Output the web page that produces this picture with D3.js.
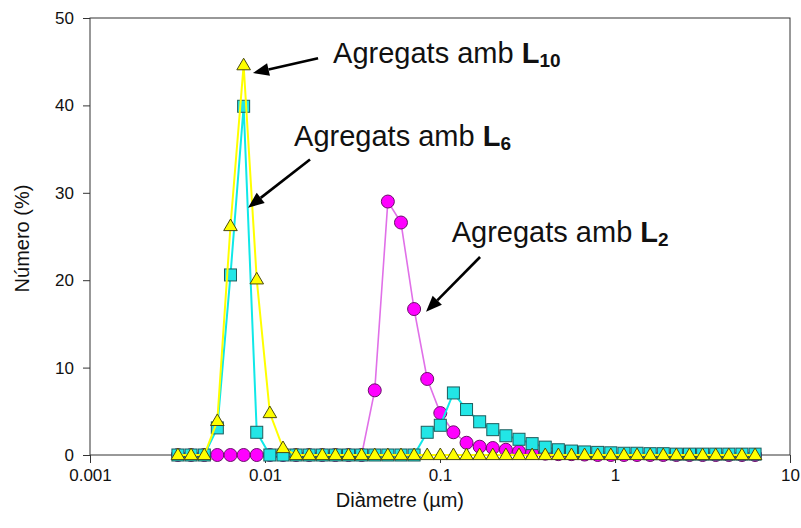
<!DOCTYPE html>
<html>
<head>
<meta charset="utf-8">
<script src="https://cdn.jsdelivr.net/npm/d3@7"></script>
<style>
  body { margin: 0; background: #fff; }
  text { font-family: Arial, "Liberation Sans", sans-serif; fill: #111; }
</style>
</head>
<body>
<div id="chart"></div>
<script>
// bin centres of the size distribution (µm)
var diameter = [0.00318, 0.00378, 0.00450, 0.00534, 0.00635, 0.00755, 0.00897, 0.01066, 0.01267,
  0.01505, 0.01788, 0.02125, 0.02525, 0.03001, 0.03566, 0.04237, 0.05035, 0.05984, 0.07111,
  0.08451, 0.1004, 0.1193, 0.1418, 0.1685, 0.2003, 0.2380, 0.2828, 0.3361, 0.3994, 0.4746,
  0.5640, 0.6702, 0.7965, 0.9463, 1.125, 1.336, 1.588, 1.887, 2.242, 2.665, 3.167, 3.763,
  4.472, 5.314, 6.316];

// number (%) for aggregates with L2, L6 and L10
var numL2 = [0, 0, 0, 0, 0, 0, 0, 0, 0, 0, 0, 0, 0, 0, 0,
  7.4, 29.0, 26.6, 16.7, 8.7, 4.8, 2.6, 1.4, 0.95, 0.8, 0.6, 0.4, 0.25, 0.15, 0.1,
  0.1, 0.05, 0, 0, 0, 0, 0, 0, 0, 0, 0, 0, 0, 0, 0];
var numL6 = [0, 0, 0, 3.1, 20.6, 39.9, 2.6, 0, 0, 0, 0, 0, 0, 0, 0,
  0, 0, 0, 0, 2.6, 3.4, 7.1, 5.2, 3.8, 2.9, 2.2, 1.8, 1.3, 0.9, 0.6,
  0.45, 0.35, 0.3, 0.25, 0.2, 0.2, 0.15, 0.15, 0.1, 0.1, 0.1, 0.1, 0.1, 0.1, 0.1];
var numL10 = [0, 0, 0, 3.9, 26.2, 44.6, 20.1, 4.8, 0.8, 0, 0, 0, 0, 0, 0,
  0, 0, 0, 0, 0, 0, 0, 0, 0, 0, 0, 0, 0, 0, 0,
  0, 0, 0, 0, 0, 0, 0, 0, 0, 0, 0, 0, 0, 0, 0];

var xTicks = [0.001, 0.01, 0.1, 1, 10];
var xTickLabels = ["0.001", "0.01", "0.1", "1", "10"];
var yTicks = [0, 10, 20, 30, 40, 50];

var width = 801, height = 528;
var margin = { top: 18, right: 11, bottom: 73, left: 90 };

var svg = d3.select("#chart").append("svg")
  .attr("width", width)
  .attr("height", height);

var x = d3.scaleLog().domain([0.001, 10]).range([margin.left, width - margin.right]);
var y = d3.scaleLinear().domain([0, 50]).range([height - margin.bottom, margin.top]);

// frame
svg.append("rect")
  .attr("x", x(0.001)).attr("y", y(50))
  .attr("width", x(10) - x(0.001)).attr("height", y(0) - y(50))
  .attr("fill", "none").attr("stroke", "#333").attr("stroke-width", 1);

// axes
var xAxis = svg.append("g")
  .attr("transform", "translate(0," + y(0) + ")")
  .call(d3.axisBottom(x).tickValues(xTicks)
    .tickFormat(function (d, i) { return xTickLabels[i]; })
    .tickSize(8).tickPadding(6));
var yAxis = svg.append("g")
  .attr("transform", "translate(" + x(0.001) + ",0)")
  .call(d3.axisLeft(y).tickValues(yTicks).tickSize(7).tickPadding(9));

[xAxis, yAxis].forEach(function (a) {
  a.select(".domain").remove();
  a.selectAll("line").attr("stroke", "#333");
  a.selectAll("text").style("font-size", "17px").attr("fill", "#222")
    .style("font-family", "Arial, 'Liberation Sans', sans-serif");
});

// axis titles (x title sits left of the plot centre, as in the original)
svg.append("text")
  .attr("x", x(0.059)).attr("y", 507)
  .attr("text-anchor", "middle").style("font-size", "20px").attr("fill", "#333")
  .text("Diàmetre (µm)");
svg.append("text")
  .attr("transform", "translate(29," + ((y(0) + y(50)) / 2 + 2) + ") rotate(-90)")
  .attr("text-anchor", "middle").style("font-size", "20px").attr("fill", "#333")
  .text("Número (%)");

// series, drawn back to front
var series = [
  { values: numL2, line: "#e070e8", lw: 1.6, fill: "#ff00ff", stroke: "#6a106a", shape: "circle" },
  { values: numL6, line: "#10e8e8", lw: 2, fill: "#22e6e6", stroke: "#1d5c5c", shape: "square" },
  { values: numL10, line: "#ffff00", lw: 2, fill: "#ffff00", stroke: "#4a4a10", shape: "triangle" }
];

var line = d3.line()
  .x(function (d) { return x(d[0]); })
  .y(function (d) { return y(d[1]); });

series.forEach(function (s) {
  var pts = diameter.map(function (d, i) { return [d, s.values[i]]; });
  var g = svg.append("g");
  g.append("path")
    .datum(pts)
    .attr("d", line)
    .attr("fill", "none")
    .attr("stroke", s.line)
    .attr("stroke-width", s.lw);

  var m = g.selectAll(".pt").data(pts).enter();
  if (s.shape === "circle") {
    m.append("circle")
      .attr("cx", function (d) { return x(d[0]); })
      .attr("cy", function (d) { return y(d[1]); })
      .attr("r", 6.5);
  } else if (s.shape === "square") {
    m.append("rect")
      .attr("x", function (d) { return x(d[0]) - 6; })
      .attr("y", function (d) { return y(d[1]) - 6; })
      .attr("width", 12).attr("height", 12);
  } else {
    m.append("path")
      .attr("d", "M0,-7L6.8,4.6L-6.8,4.6Z")
      .attr("transform", function (d) { return "translate(" + x(d[0]) + "," + y(d[1]) + ")"; });
  }
  g.selectAll("circle,rect,path:not(:first-child)")
    .attr("fill", s.fill)
    .attr("stroke", s.stroke)
    .attr("stroke-width", 1);
});

// annotations (positions in data units)
var annotations = [
  { text: "Agregats amb ", bold: "L", sub: "10", at: [0.0245, 44.8], from: [0.0201, 45.4], to: [0.00853, 43.7] },
  { text: "Agregats amb ", bold: "L", sub: "6", at: [0.01466, 35.3], from: [0.01808, 33.8], to: [0.0080, 28.3] },
  { text: "Agregats amb ", bold: "L", sub: "2", at: [0.1167, 24.4], from: [0.1694, 22.65], to: [0.0832, 16.4] }
];

annotations.forEach(function (a) {
  var t = svg.append("text")
    .attr("x", x(a.at[0])).attr("y", y(a.at[1]))
    .style("font-size", "29px").attr("fill", "#000");
  t.append("tspan").text(a.text);
  t.append("tspan").style("font-weight", "bold").text(a.bold);
  t.append("tspan").style("font-weight", "bold").style("font-size", "19px")
    .attr("dy", 4).text(a.sub);

  var x1 = x(a.from[0]), y1 = y(a.from[1]), x2 = x(a.to[0]), y2 = y(a.to[1]);
  var ang = Math.atan2(y2 - y1, x2 - x1);
  var hl = 16, hw = 6.5;
  var bx = x2 - hl * Math.cos(ang), by = y2 - hl * Math.sin(ang);
  svg.append("line")
    .attr("x1", x1).attr("y1", y1).attr("x2", bx).attr("y2", by)
    .attr("stroke", "#000").attr("stroke-width", 2.6);
  svg.append("path")
    .attr("d", "M" + x2 + "," + y2 +
      "L" + (bx + hw * Math.sin(ang)) + "," + (by - hw * Math.cos(ang)) +
      "L" + (bx - hw * Math.sin(ang)) + "," + (by + hw * Math.cos(ang)) + "Z")
    .attr("fill", "#000");
});
</script>
</body>
</html>
